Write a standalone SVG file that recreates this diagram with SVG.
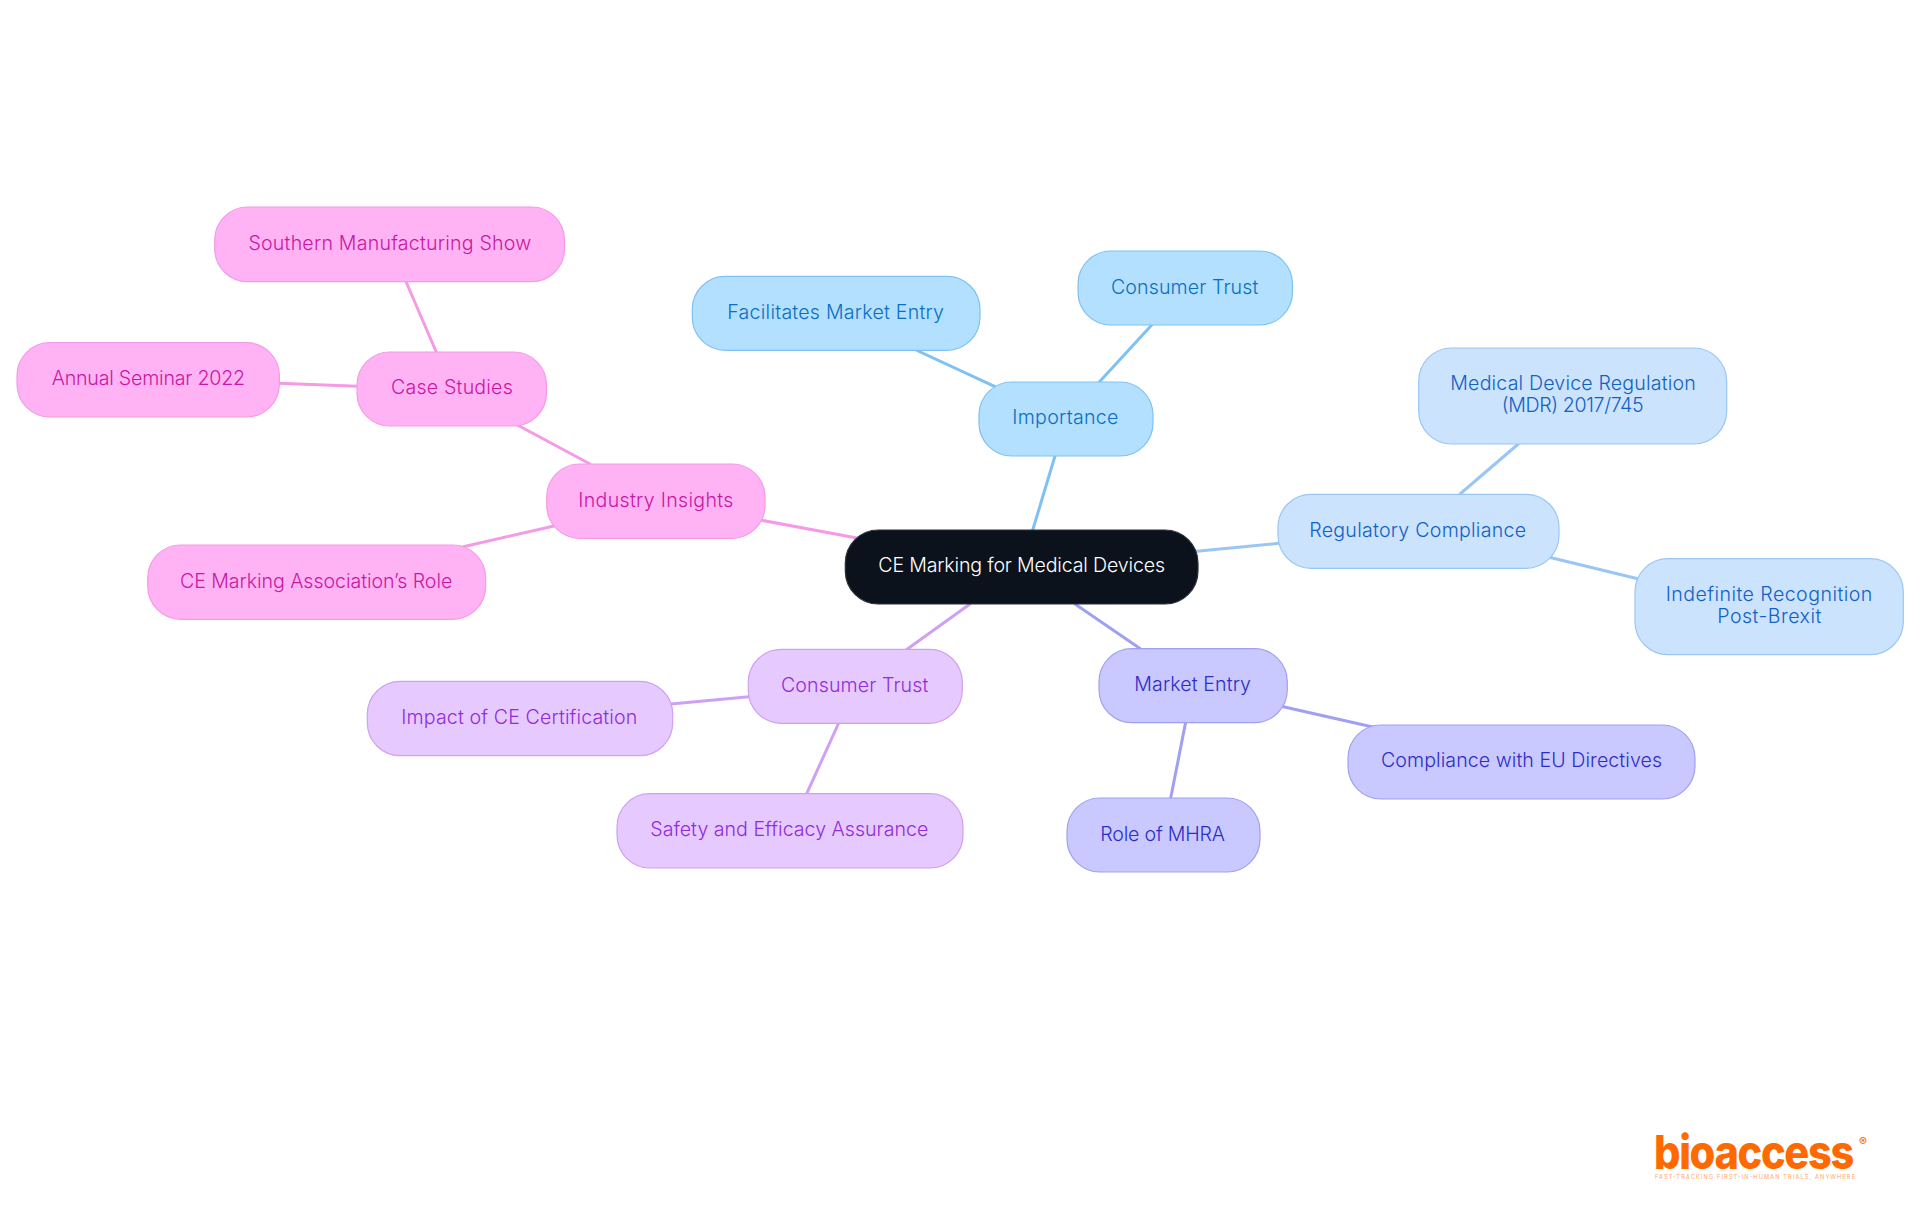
<svg xmlns="http://www.w3.org/2000/svg" width="1920" height="1215" viewBox="0 0 1920 1215">
<style>
text{font-family:"Inter","Noto Sans","Liberation Sans",sans-serif;font-size:19.6px;font-weight:360}
rect{stroke-width:1.2}
#connectors line{stroke-width:3;stroke-linecap:round}
.c0 rect{fill:#0b121b;stroke:#2b3138}.c0 text{fill:#fff;font-weight:340}
.c1 rect{fill:#b3e0ff;stroke:#7fc1f3}.c1 text{fill:#0a6fc4}
.c2 rect{fill:#cce3fd;stroke:#9ac6f4}.c2 text{fill:#1261c4}
.c3 rect{fill:#c9c9ff;stroke:#a0a0f3}.c3 text{fill:#2d2dc6}
.c4 rect{fill:#e6c9ff;stroke:#cfa0f3}.c4 text{fill:#902cdc}
.c5 rect{fill:#ffb3f5;stroke:#f59ae6}.c5 text{fill:#c9179f}
.l1{stroke:#7fc1f3}.l2{stroke:#9ac6f4}.l3{stroke:#a0a0f3}.l4{stroke:#cfa0f3}.l5{stroke:#f59ae6}
</style>
<g id="connectors">
<line class="l1" x1="1055" y1="456" x2="1032.7" y2="530"/>
<line class="l1" x1="916" y1="350" x2="995" y2="386.7"/>
<line class="l1" x1="1099.3" y1="382" x2="1151.7" y2="325"/>
<line class="l2" x1="1197" y1="551.3" x2="1279" y2="543.3"/>
<line class="l2" x1="1460" y1="494" x2="1518.3" y2="444"/>
<line class="l2" x1="1548.3" y1="557" x2="1637.7" y2="578.7"/>
<line class="l3" x1="1075" y1="604" x2="1140" y2="648.5"/>
<line class="l3" x1="1280" y1="706" x2="1371.7" y2="726.7"/>
<line class="l3" x1="1185.7" y1="722" x2="1170.7" y2="798"/>
<line class="l4" x1="970" y1="604" x2="906.7" y2="649.5"/>
<line class="l4" x1="749" y1="696.7" x2="671" y2="704"/>
<line class="l4" x1="838.7" y1="723" x2="806.7" y2="793.7"/>
<line class="l5" x1="858.3" y1="538.3" x2="761.7" y2="520.3"/>
<line class="l5" x1="590" y1="464" x2="517.4" y2="425"/>
<line class="l5" x1="554" y1="526" x2="463.3" y2="546.7"/>
<line class="l5" x1="436.3" y1="352" x2="405.7" y2="281"/>
<line class="l5" x1="357" y1="386.3" x2="279" y2="383.3"/>
</g>
<g id="root" class="c0"><rect x="845.3" y="530" width="352.7" height="74" rx="33"/><text x="878.3" y="571.7" textLength="286.7">CE Marking for Medical Devices</text></g>
<g id="importance" class="c1"><rect x="979" y="382" width="174" height="74" rx="33"/><text x="1012.3" y="424" textLength="106">Importance</text></g>
<g id="facilitates" class="c1"><rect x="692.3" y="276.3" width="287.7" height="74" rx="33"/><text x="727.3" y="319" textLength="216.7">Facilitates Market Entry</text></g>
<g id="consumer-trust-blue" class="c1"><rect x="1078" y="251" width="214.5" height="74" rx="33"/><text x="1111" y="294.3" textLength="147.3">Consumer Trust</text></g>
<g id="regulatory" class="c2"><rect x="1278" y="494.3" width="281" height="74" rx="33"/><text x="1309.3" y="536.7" textLength="216.7">Regulatory Compliance</text></g>
<g id="mdr" class="c2"><rect x="1418.7" y="348" width="308" height="96" rx="33"/><text x="1450.3" y="390" textLength="245.4">Medical Device Regulation</text><text x="1501.7" y="411.7" textLength="142">(MDR) 2017/745</text></g>
<g id="indefinite" class="c2"><rect x="1635" y="558.7" width="268.3" height="96" rx="33"/><text x="1665.7" y="601" textLength="206.6">Indefinite Recognition</text><text x="1717.3" y="622.7" textLength="104">Post-Brexit</text></g>
<g id="market-entry" class="c3"><rect x="1099" y="648.7" width="188.3" height="74" rx="33"/><text x="1134.3" y="691" textLength="116.7">Market Entry</text></g>
<g id="compliance" class="c3"><rect x="1348" y="725" width="347" height="74" rx="33"/><text x="1381" y="767" textLength="281">Compliance with EU Directives</text></g>
<g id="mhra" class="c3"><rect x="1067" y="798" width="193" height="74" rx="33"/><text x="1100.3" y="840.7" textLength="124.7">Role of MHRA</text></g>
<g id="consumer-trust" class="c4"><rect x="748.3" y="649.3" width="214" height="74" rx="33"/><text x="781" y="691.7" textLength="147.3">Consumer Trust</text></g>
<g id="impact" class="c4"><rect x="367.3" y="681.3" width="305.4" height="74.4" rx="33"/><text x="401.3" y="724" textLength="236">Impact of CE Certification</text></g>
<g id="safety" class="c4"><rect x="617" y="793.7" width="346" height="74.3" rx="33"/><text x="650.3" y="836" textLength="278">Safety and Efficacy Assurance</text></g>
<g id="industry" class="c5"><rect x="546.7" y="464" width="218.3" height="74.3" rx="33"/><text x="578.3" y="506.7" textLength="155">Industry Insights</text></g>
<g id="case-studies" class="c5"><rect x="357" y="352" width="189.5" height="74" rx="33"/><text x="391" y="394" textLength="121.8">Case Studies</text></g>
<g id="southern" class="c5"><rect x="214.7" y="207" width="349.8" height="74.7" rx="33"/><text x="248.4" y="250.3" textLength="282.8">Southern Manufacturing Show</text></g>
<g id="annual" class="c5"><rect x="17" y="342.7" width="262.4" height="74.3" rx="33"/><text x="51.7" y="385" textLength="193.3">Annual Seminar 2022</text></g>
<g id="association" class="c5"><rect x="147.7" y="545" width="338" height="74.3" rx="33"/><text x="180" y="588.3" textLength="272.3">CE Marking Association’s Role</text></g>
<g id="logo">
<text x="1654" y="1169" textLength="199" lengthAdjust="spacingAndGlyphs" style="font-size:47px;font-weight:800;letter-spacing:-1.5px;fill:#ff6a00">bioaccess</text>
<text x="1863" y="1146" text-anchor="middle" style="font-size:12px;font-weight:600;fill:#ff6a00">®</text>
<text x="1655" y="1179.3" textLength="200" style="font-size:5.6px;font-weight:400;fill:#ffa468">FAST-TRACKING FIRST-IN-HUMAN TRIALS, ANYWHERE</text>
</g>
</svg>
